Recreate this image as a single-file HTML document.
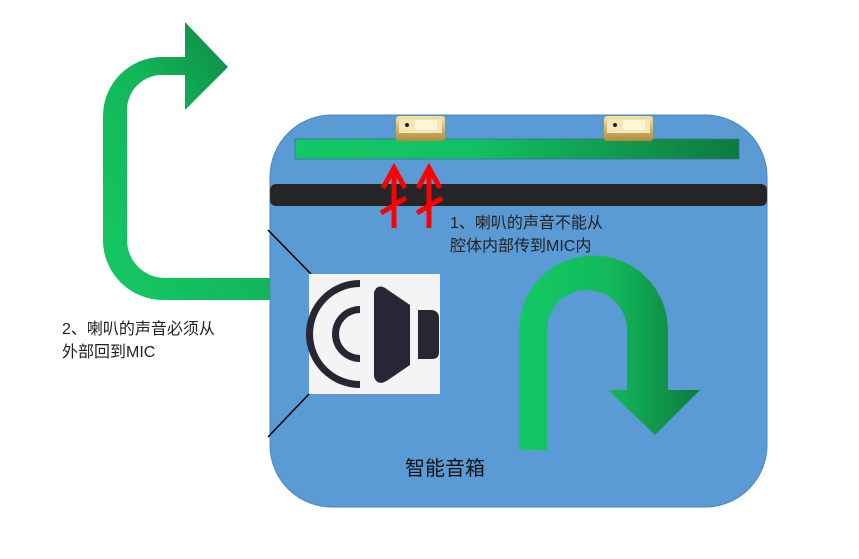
<!DOCTYPE html>
<html><head><meta charset="utf-8"><style>
body{margin:0;background:#fff;width:859px;height:554px;overflow:hidden;font-family:"Liberation Sans","Noto Sans CJK SC",sans-serif}
</style></head><body>
<svg width="859" height="554" xmlns="http://www.w3.org/2000/svg" font-family="Liberation Sans, Noto Sans CJK SC, sans-serif">
<defs>
<linearGradient id="g1" x1="0" x2="1" y1="0" y2="0"><stop offset="0" stop-color="#13c964"/><stop offset="0.4" stop-color="#12c160"/><stop offset="1" stop-color="#0e7a3e"/></linearGradient>
<linearGradient id="g2" x1="0" x2="1" y1="1" y2="0"><stop offset="0" stop-color="#14c965"/><stop offset="0.5" stop-color="#12b75a"/><stop offset="1" stop-color="#0e7b3f"/></linearGradient>
<linearGradient id="g3" x1="0" x2="1" y1="0" y2="0"><stop offset="0" stop-color="#13c964"/><stop offset="0.5" stop-color="#12b95b"/><stop offset="1" stop-color="#0e7a3e"/></linearGradient>
<linearGradient id="mic" x1="0" x2="0" y1="0" y2="1"><stop offset="0" stop-color="#f4e3a8"/><stop offset="1" stop-color="#b08a3a"/></linearGradient>
</defs>
<rect x="270" y="115" width="497" height="392" rx="62" fill="#5b9bd5" stroke="#4a86be"/>
<rect x="295" y="139" width="444" height="20" fill="url(#g1)" stroke="#3d6e9c" stroke-width="0.8"/>
<rect x="270" y="184" width="497" height="22" rx="6" fill="#262626"/>
<g>
<rect x="396" y="116" width="49" height="25" rx="3" fill="url(#mic)"/><rect x="399" y="119" width="43" height="14" fill="#f3e6b8"/><circle cx="407" cy="125" r="2" fill="#222"/><rect x="415" y="120" width="22" height="10" fill="#fff5d8"/>
<rect x="604" y="116" width="49" height="25" rx="3" fill="url(#mic)"/><rect x="607" y="119" width="43" height="14" fill="#f3e6b8"/><circle cx="615" cy="125" r="2" fill="#222"/><rect x="623" y="120" width="22" height="10" fill="#fff5d8"/>
</g>
<g stroke="#ff0000" stroke-width="5" fill="none">
<line x1="394" y1="228" x2="394" y2="168"/><polyline points="383,188 394,168 405,188"/><line x1="381" y1="213" x2="406" y2="198"/>
<line x1="429" y1="228" x2="429" y2="168"/><polyline points="418,188 429,168 440,188"/><line x1="417" y1="213" x2="442" y2="198"/>
</g>
<line x1="268" y1="230" x2="311" y2="274" stroke="#000" stroke-width="1.5"/>
<line x1="268" y1="437" x2="309" y2="394" stroke="#000" stroke-width="1.5"/>
<rect x="309" y="274" width="131" height="120" fill="#f4f4f4"/>
<g fill="#262634">
<path d="M366,280 A54,54 0 0 0 366,388 L366,381 A47,47 0 0 1 366,287 Z" transform="translate(-6,0)"/>
<path d="M360,306 A28,28 0 0 0 360,362 L360,355 A21,21 0 0 1 360,313 Z"/>
<path d="M374,292 Q378,282 388,290 L410,305 L410,365 L388,380 Q378,387 374,377 Z"/>
<path d="M418,310 L432,310 Q439,311 439,318 L439,352 Q439,359 432,359 L418,359 Z"/>
</g>
<path d="M270,278 L165,278 A38,38 0 0 1 127,240 L127,110 A35,35 0 0 1 162,75 L185,75 L185,110 L228,67 L185,22 L185,57 L162,57 A59,59 0 0 0 103,116 L103,240 A60,60 0 0 0 163,300 L270,300 Z" fill="url(#g2)"/>
<path d="M519,450 L547,450 L547,330 A40,40 0 0 1 627,330 L627,390 L608,390 L655,435 L700,390 L668,390 L668,330 A74,74 0 0 0 519,330 Z" fill="url(#g3)"/>
<g font-size="16" fill="#222">
<text x="450" y="228">1、喇叭的声音不能从</text>
<text x="450" y="251">腔体内部传到MIC内</text>
<text x="62" y="334">2、喇叭的声音必须从</text>
<text x="62" y="357">外部回到MIC</text>
</g>
<text x="405" y="475" font-size="20" fill="#111">智能音箱</text>
</svg>
</body></html>
